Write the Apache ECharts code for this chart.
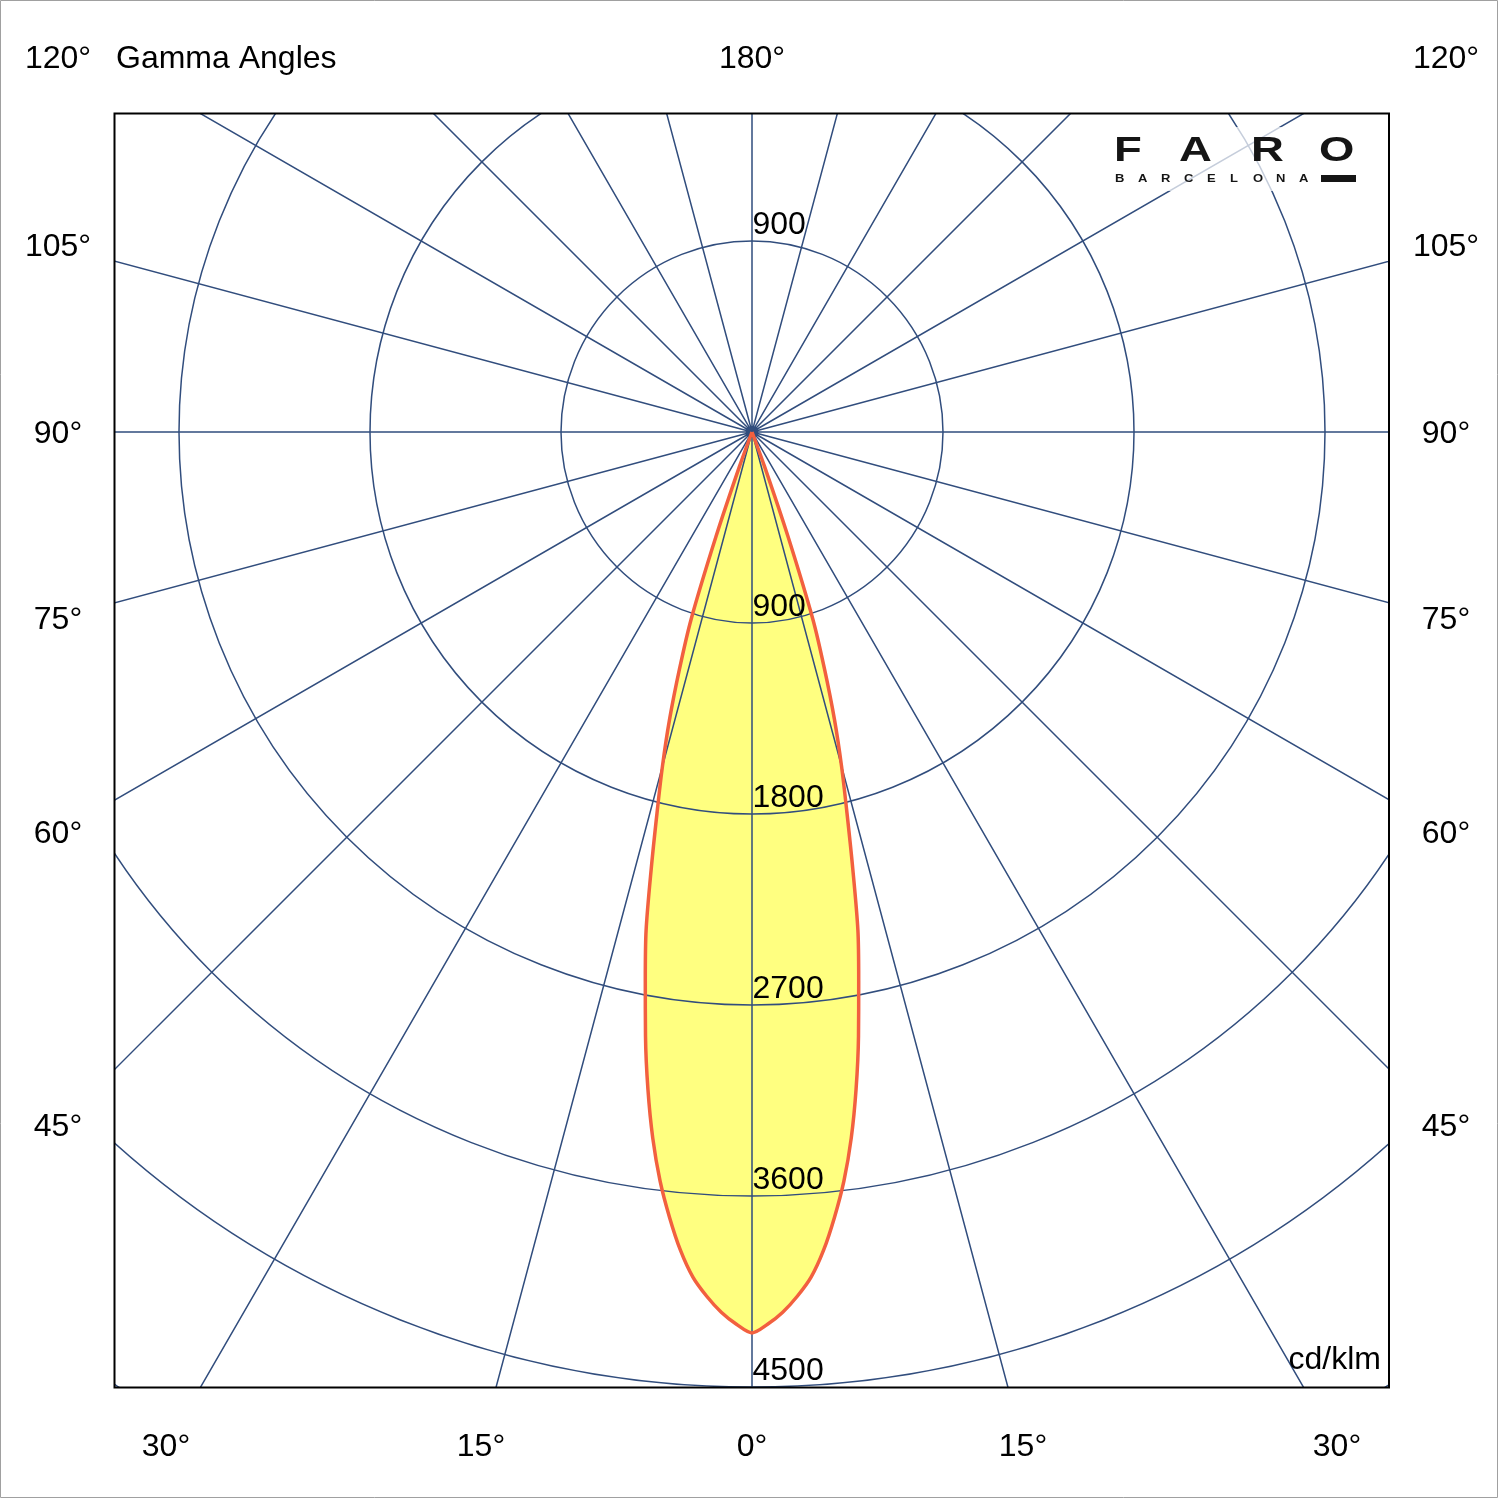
<!DOCTYPE html>
<html>
<head>
<meta charset="utf-8">
<title>Gamma Angles</title>
<script src="https://cdn.jsdelivr.net/npm/echarts@6/dist/echarts.min.js"></script>
<style>
  html, body { margin: 0; padding: 0; background: #fff; }
  #polar { position: absolute; left: 115px; top: 114px; width: 1273px; height: 1273px; z-index: 1; }
  #frame { position: absolute; left: 0; top: 0; width: 1500px; height: 1500px; z-index: 2; pointer-events: none; }
</style>
</head>
<body>
<div id="polar"></div>
<div id="frame"></div>
<script>
// half of the (symmetric) intensity curve, gamma in degrees, values in cd/klm
const gammaAngles = [0, 1, 2, 3, 4, 5, 6, 7, 8, 9, 10, 11, 12, 13, 14, 15, 16, 17, 18, 19, 20, 21]
const intensity = [4245, 4205, 4150, 4078, 3992, 3870, 3720, 3555, 3360, 3135, 2890, 2635, 2400, 2110, 1850, 1630, 1410, 1170, 930, 520, 170, 0]

// ring labels along the 0 deg ray and the one above the centre
const ringTicks = [900, 1800, 2700, 3600, 4500]
const upperTicks = [900]

// labels round the frame
const sideLabels = ['120°', '105°', '90°', '75°', '60°', '45°']
const bottomLabels = ['30°', '15°', '0°', '15°', '30°']
const topLabel = '180°'
const titleText = 'Gamma Angles'
const unitText = 'cd/klm'

const GRID = '#314d7d'
const FONT = '"Liberation Sans", Arial, sans-serif'
const RADIUS_MAX = 5850 // beyond the corners of the square
const PX_PER_900 = 191

// closed lobe: right half (negative angles) then left half
const lobe = []
for (let i = gammaAngles.length - 1; i >= 0; i--) lobe.push([intensity[i], -gammaAngles[i]])
for (let i = 1; i < gammaAngles.length; i++) lobe.push([intensity[i], gammaAngles[i]])

const tickData = ringTicks.map(v => [v, 0]).concat(upperTicks.map(v => [v, 180]))

const polarChart = echarts.init(document.getElementById('polar'))
polarChart.setOption({
  backgroundColor: 'rgba(0,0,0,0)',
  animation: false,
  polar: {
    center: [637, 318],
    radius: RADIUS_MAX / 900 * PX_PER_900
  },
  angleAxis: {
    type: 'value',
    min: -180,
    max: 180,
    interval: 15,
    startAngle: 90,
    clockwise: true,
    z: 1,
    axisLine: { show: false },
    axisTick: { show: false },
    axisLabel: { show: false },
    splitLine: { show: true, lineStyle: { color: GRID, width: 1.5 } }
  },
  radiusAxis: {
    type: 'value',
    min: 0,
    max: RADIUS_MAX,
    interval: 900,
    z: 1,
    axisLine: { show: false },
    axisTick: { show: false },
    axisLabel: { show: false },
    splitLine: { show: true, lineStyle: { color: GRID, width: 1.5 } }
  },
  series: [
    {
      // fill sits under the grid
      type: 'line',
      coordinateSystem: 'polar',
      data: lobe,
      symbol: 'none',
      smooth: 0.3,
      silent: true,
      z: 0,
      lineStyle: { width: 0 },
      areaStyle: { color: '#ffff80', opacity: 1 }
    },
    {
      type: 'line',
      coordinateSystem: 'polar',
      data: lobe,
      symbol: 'none',
      smooth: 0.3,
      silent: true,
      z: 3,
      lineStyle: { color: '#f2603f', width: 3.5 }
    },
    {
      type: 'scatter',
      coordinateSystem: 'polar',
      data: tickData,
      symbolSize: 1,
      silent: true,
      z: 4,
      itemStyle: { color: 'rgba(0,0,0,0)', opacity: 1 },
      label: {
        show: true,
        formatter: p => String(p.value[0]),
        position: [1, 1],
        align: 'left',
        verticalAlign: 'bottom',
        color: '#000',
        opacity: 1,
        textBorderWidth: 0,
        fontSize: 32,
        fontFamily: FONT
      }
    }
  ]
})

// frame, labels and logo drawn over the polar grid
const sideY = [59, 247, 434, 620, 834, 1127]
const bottomX = [166, 481, 752, 1023, 1337]

function label(text, x, y, align) {
  return {
    type: 'text',
    x: x,
    y: y,
    style: {
      text: text,
      fill: '#000',
      font: '32px ' + FONT,
      align: align || 'center',
      textAlign: align || 'center',
      verticalAlign: 'middle',
      textVerticalAlign: 'middle'
    }
  }
}

const graphics = [
  { type: 'rect', shape: { x: 0.5, y: 0.5, width: 1497, height: 1497 }, style: { fill: 'none', stroke: '#a0a0a0', lineWidth: 1 } },
  { type: 'rect', shape: { x: 114.5, y: 113.5, width: 1274.5, height: 1274 }, style: { fill: 'none', stroke: '#000', lineWidth: 2 } }
]
sideLabels.forEach((t, i) => {
  graphics.push(label(t, 58, sideY[i]))
  graphics.push(label(t, 1446, sideY[i]))
})
bottomLabels.forEach((t, i) => graphics.push(label(t, bottomX[i], 1447)))
graphics.push(label(topLabel, 752, 59))
graphics.push(label(titleText, 116, 59, 'left'))
graphics.push(label(unitText, 1381, 1360, 'right'))

// logo
graphics.push({ type: 'rect', shape: { x: 1106, y: 127, width: 258, height: 64 }, style: { fill: 'rgba(255,255,255,0.72)' } })
const logoX = [1114, 1179, 1251, 1319]
'FARO'.split('').forEach((ch, i) => {
  graphics.push({
    type: 'text', x: logoX[i], y: 151, scaleX: 1.3,
    style: { text: ch, fill: '#151515', font: 'bold 35px ' + FONT, align: 'left', textAlign: 'left', verticalAlign: 'middle', textVerticalAlign: 'middle' }
  })
})
'BARCELONA'.split('').forEach((ch, i) => {
  graphics.push({
    type: 'text', x: 1115 + i * 23, y: 179, scaleX: 1.3,
    style: { text: ch, fill: '#151515', font: 'bold 10px ' + FONT, align: 'left', textAlign: 'left', verticalAlign: 'middle', textVerticalAlign: 'middle' }
  })
})
graphics.push({ type: 'rect', shape: { x: 1321, y: 175, width: 35, height: 7 }, style: { fill: '#151515' } })

const frameChart = echarts.init(document.getElementById('frame'))
frameChart.setOption({
  backgroundColor: 'rgba(0,0,0,0)',
  animation: false,
  graphic: graphics
})
</script>
</body>
</html>
